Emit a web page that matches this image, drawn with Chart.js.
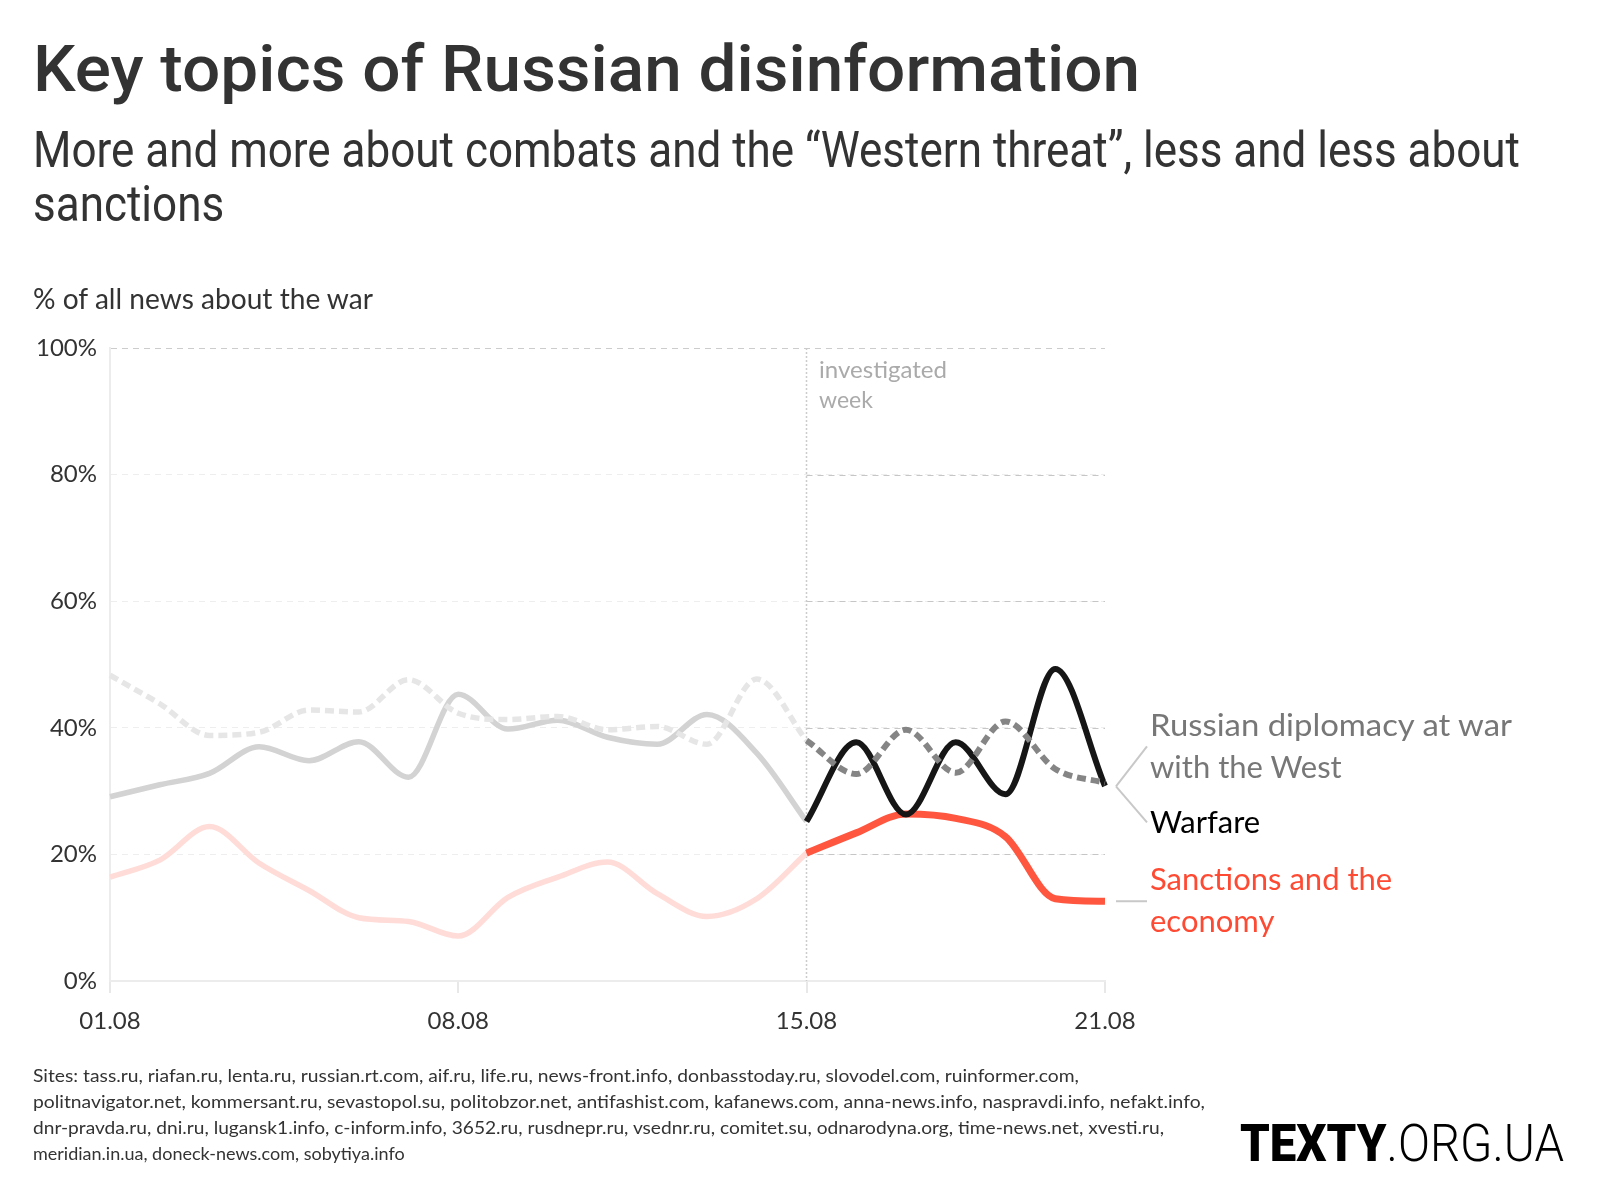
<!DOCTYPE html>
<html>
<head>
<meta charset="utf-8">
<title>Key topics of Russian disinformation</title>
<script src="https://cdn.jsdelivr.net/npm/chart.js@4.4.0/dist/chart.umd.min.js"></script>
<style>
  body { margin: 0; background: #fff; width: 1600px; height: 1200px; position: relative; overflow: hidden; font-family: Lato, sans-serif; color: #333; }
  #chart { position: absolute; left: 0; top: 0; }
  .t { position: absolute; white-space: nowrap; line-height: 1; transform-origin: 0 0; }
  #title { left: 33px; top: 32px; font: 500 64px Roboto, sans-serif; color: #333; }
  .sub { left: 33px; font: 400 50px Roboto, sans-serif; color: #333; }
  #sub1 { top: 121px; }
  #sub2 { top: 175px; }
  #ylabel { left: 33px; top: 284px; font-size: 28px; color: #333; }
  .note { left: 819px; font-size: 23px; color: #aaa; }
  .lab { left: 1150px; font-size: 31px; }
  .grey { color: #777; }
  .black { color: #000; }
  .red { color: #ff4a33; }
  .src { left: 33px; font-size: 18px; color: #333; }
  #logo { left: 1240px; top: 1113px; font: 900 52px Roboto, sans-serif; color: #000; }
  #logo span { font-weight: 300; }
</style>
</head>
<body>
<canvas id="chart" width="1600" height="1200"></canvas>

<div class="t" id="title">Key topics of Russian disinformation</div>
<div class="t sub" id="sub1">More and more about combats and the “Western threat”, less and less about</div>
<div class="t sub" id="sub2">sanctions</div>
<div class="t" id="ylabel">% of all news about the war</div>

<div class="t note" id="note1" style="top:358px">investigated</div>
<div class="t note" id="note2" style="top:388px">week</div>

<div class="t lab grey" id="lab1" style="top:709px">Russian diplomacy at war</div>
<div class="t lab grey" id="lab2" style="top:751px">with the West</div>
<div class="t lab black" id="lab3" style="top:806px">Warfare</div>
<div class="t lab red" id="lab4" style="top:863px">Sanctions and the</div>
<div class="t lab red" id="lab5" style="top:905px">economy</div>

<div class="t src" id="src1" style="top:1066px">Sites: tass.ru, riafan.ru, lenta.ru, russian.rt.com, aif.ru, life.ru, news-front.info, donbasstoday.ru, slovodel.com, ruinformer.com,</div>
<div class="t src" id="src2" style="top:1092px">politnavigator.net, kommersant.ru, sevastopol.su, politobzor.net, antifashist.com, kafanews.com, anna-news.info, naspravdi.info, nefakt.info,</div>
<div class="t src" id="src3" style="top:1118px">dnr-pravda.ru, dni.ru, lugansk1.info, c-inform.info, 3652.ru, rusdnepr.ru, vsednr.ru, comitet.su, odnarodyna.org, time-news.net, xvesti.ru,</div>
<div class="t src" id="src4" style="top:1144px">meridian.in.ua, doneck-news.com, sobytiya.info</div>

<div class="t" id="logo">TEXTY<span>.ORG.UA</span></div>

<script>
// days on the x axis
const days = ['01.08', '02.08', '03.08', '04.08', '05.08', '06.08', '07.08',
              '08.08', '09.08', '10.08', '11.08', '12.08', '13.08', '14.08',
              '15.08', '16.08', '17.08', '18.08', '19.08', '20.08', '21.08'];
const shownDays = ['01.08', '08.08', '15.08', '21.08'];
const weekStart = '15.08';
const yTicks = [0, 20, 40, 60, 80, 100];

// % of all news, 01.08 - 15.08
const warfareBefore   = [29.1, 31.0, 32.8, 37.0, 34.8, 37.8, 32.2, 45.3, 39.8, 41.2, 38.5, 37.4, 42.1, 36.0, 25.2];
const diplomacyBefore = [48.3, 43.8, 38.8, 39.3, 42.8, 42.5, 47.6, 42.3, 41.3, 41.8, 39.7, 40.2, 37.4, 47.7, 38.0];
const sanctionsBefore = [16.4, 19.1, 24.4, 18.6, 14.3, 10.0, 9.4, 7.1, 13.2, 16.4, 18.8, 13.8, 10.2, 13.0, 20.2];

// % of all news, investigated week 15.08 - 21.08
const warfareWeek   = [25.2, 37.7, 26.3, 37.7, 29.5, 49.3, 30.8];
const diplomacyWeek = [38.0, 32.7, 39.7, 32.9, 41.0, 33.5, 31.3];
const sanctionsWeek = [20.2, 23.4, 26.4, 25.7, 22.8, 13.0, 12.6];

const nulls = n => Array(n).fill(null);
const before = arr => arr.concat(nulls(days.length - arr.length));
const week = arr => nulls(days.length - arr.length).concat(arr);

function line(ctx, x1, y1, x2, y2) {
    ctx.beginPath();
    ctx.moveTo(x1, y1);
    ctx.lineTo(x2, y2);
    ctx.stroke();
}

// darker grid and dotted marker for the investigated week, plus label connectors
const weekMarks = {
    id: 'weekMarks',
    beforeDatasetsDraw(chart) {
        const { ctx, chartArea, scales: { x, y } } = chart;
        const x0 = x.getPixelForValue(days.indexOf(weekStart));
        ctx.save();
        ctx.strokeStyle = '#c6c6c6';
        ctx.lineWidth = 1;
        ctx.setLineDash([6, 5]);
        yTicks.filter(v => v > 0 && v < 100).forEach(v => {
            const py = Math.round(y.getPixelForValue(v)) + 0.5;
            line(ctx, x0, py, chartArea.right, py);
        });
        ctx.strokeStyle = '#cccccc';
        ctx.lineWidth = 1.5;
        ctx.setLineDash([2, 2]);
        line(ctx, x0, chartArea.top, x0, chartArea.bottom);
        ctx.restore();
    },
    afterDraw(chart) {
        const { ctx, chartArea, scales: { y } } = chart;
        const last = a => a[a.length - 1];
        const fork = y.getPixelForValue((last(warfareWeek) + last(diplomacyWeek)) / 2) + 2;
        const sy = y.getPixelForValue(last(sanctionsWeek));
        const x1 = chartArea.right + 11, x2 = chartArea.right + 42;
        ctx.save();
        ctx.strokeStyle = '#c8c8c8';
        ctx.lineWidth = 2;
        line(ctx, x1, fork, x2, fork - 40);
        line(ctx, x1, fork, x2, fork + 36);
        line(ctx, x1, sy, x2, sy);
        ctx.restore();
    }
};

const ctx = document.getElementById('chart').getContext('2d');
const chart = new Chart(ctx, {
    type: 'line',
    data: {
        labels: days,
        datasets: [{
            label: 'Russian diplomacy at war with the West',
            data: week(diplomacyWeek),
            borderColor: '#858585',
            borderWidth: 6,
            borderDash: [9, 5]
        }, {
            label: 'Warfare',
            data: week(warfareWeek),
            borderColor: '#161616',
            borderWidth: 6
        }, {
            label: 'Sanctions and the economy',
            data: week(sanctionsWeek),
            borderColor: '#ff5640',
            borderWidth: 7
        }, {
            label: 'Russian diplomacy (before)',
            data: before(diplomacyBefore),
            borderColor: '#e6e6e6',
            borderWidth: 5.5,
            borderDash: [9, 5]
        }, {
            label: 'Warfare (before)',
            data: before(warfareBefore),
            borderColor: '#d3d3d3',
            borderWidth: 5.5
        }, {
            label: 'Sanctions (before)',
            data: before(sanctionsBefore),
            borderColor: '#ffdcd8',
            borderWidth: 5.5
        }]
    },
    options: {
        responsive: false,
        devicePixelRatio: 1,
        animation: false,
        events: [],
        elements: {
            point: { radius: 0 },
            line: { cubicInterpolationMode: 'monotone', fill: false }
        },
        layout: {
            padding: { left: 0, top: 348, right: 495, bottom: 159 }
        },
        plugins: {
            legend: { display: false },
            tooltip: { enabled: false }
        },
        scales: {
            x: {
                offset: false,
                afterFit: scale => { scale.height = 60; },
                grid: {
                    drawOnChartArea: false,
                    drawTicks: true,
                    tickLength: 12,
                    color: c => shownDays.includes(days[c.index]) ? '#e8e8e8' : 'rgba(0,0,0,0)',
                    lineWidth: 2
                },
                border: { display: true, color: '#ececec', width: 2 },
                ticks: {
                    autoSkip: false,
                    maxRotation: 0,
                    padding: 14,
                    color: '#333',
                    font: { family: 'Lato', size: 24 },
                    callback: (v, i) => shownDays.includes(days[i]) ? days[i] : ''
                }
            },
            y: {
                min: 0,
                max: 100,
                afterFit: scale => { scale.width = 110; },
                afterBuildTicks: scale => { scale.ticks = yTicks.map(v => ({ value: v })); },
                grid: {
                    drawTicks: false,
                    lineWidth: 1,
                    color: c => c.tick.value === 100 ? '#cccccc' : (c.tick.value === 0 ? 'rgba(0,0,0,0)' : '#eeeeee')
                },
                border: { display: true, color: '#ececec', width: 2, dash: [6, 5] },
                ticks: {
                    padding: 13,
                    color: '#333',
                    font: { family: 'Lato', size: 24 },
                    callback: v => v + '%'
                }
            }
        }
    },
    plugins: [weekMarks]
});

// squeeze text lines to the widths of the original layout
function fit(id, w) {
    const el = document.getElementById(id);
    el.style.transform = 'scaleX(' + (w / el.getBoundingClientRect().width) + ')';
}
fit('title', 1107);
fit('sub1', 1487);
document.getElementById('sub2').style.transform = document.getElementById('sub1').style.transform;
fit('ylabel', 340);
fit('note1', 128);
fit('lab1', 362);
fit('src1', 1046);
fit('src2', 1172);
fit('src3', 1131);
fit('logo', 324);
</script>
</body>
</html>
